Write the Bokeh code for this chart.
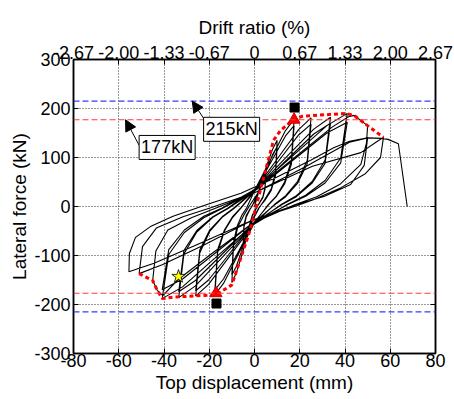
from bokeh.plotting import figure
from bokeh.models import LinearAxis, FixedTicker, Span, Label, Arrow, NormalHead
from bokeh.embed import file_html
from bokeh.resources import INLINE

FONT = "Liberation Sans"

# ---------------- data ----------------
x_ticks = [-80, -60, -40, -20, 0, 20, 40, 60, 80]
x_tick_labels = ["-80", "-60", "-40", "-20", "0", "20", "40", "60", "80"]
y_ticks = [-300, -200, -100, 0, 100, 200, 300]
y_tick_labels = ["-300", "-200", "-100", "0", "100", "200", "300"]
drift_labels = ["-2.67", "-2.00", "-1.33", "-0.67", "0", "0.67", "1.33", "2.00", "2.67"]

# hysteresis history: top displacement (mm) and lateral force (kN)
top_disp = [
    0, 2.5, 4, 5,
    4.65, 3.7, 2.25, 1, -1, -2.6, -4, -5,
    -4.65, -3.7, -2.25, -1, 1, 2.6, 4, 5,
    4.65, 3.7, 2.25, 1, -1, -2.6, -4, -5,
    -4.65, -3.7, -2.25, -1, 2, 5.2, 8, 10,
    9.3, 7.4, 4.5, 2, -2, -5.2, -8, -10,
    -9.3, -7.4, -4.5, -2, 2, 5.2, 8, 10,
    9.3, 7.4, 4.5, 2, -2, -5.2, -8, -10,
    -9.3, -7.6, -5.5, -3.5, 0.4, 7.9, 13.7, 17.5,
    16.3, 13.3, 9.6, 6.1, -0.4, -7.9, -13.7, -17.5,
    -16.3, -13.3, -9.6, -6.1, 0.4, 7.9, 13.7, 17.5,
    16.3, 13.3, 9.6, 6.1, -0.4, -7.9, -13.7, -17.5,
    -16.3, -13.3, -9.6, -6.1, 0.5, 11.3, 19.5, 25,
    23.3, 19, 13.8, 8.8, -0.5, -11.7, -20.3, -26,
    -24.2, -19.8, -14.3, -9.1, 0.5, 11.3, 19.5, 25,
    23.3, 19, 13.8, 8.8, -0.5, -11.7, -20.3, -26,
    -24.2, -19.8, -14.3, -9.1, 0.7, 15.1, 26.2, 33.6,
    31.2, 25.5, 18.5, 11.8, -0.7, -15.1, -26.1, -33.5,
    -31.2, -25.5, -18.4, -11.7, 0.7, 15.1, 26.2, 33.6,
    31.2, 25.5, 18.5, 11.8, -0.7, -15.1, -26.1, -33.5,
    -31.2, -25.5, -18.4, -11.7, 0.8, 18.5, 32, 41,
    38.1, 31.2, 22.6, 14.4, -0.8, -18.4, -31.8, -40.8,
    -37.9, -31, -22.4, -14.3, 0.8, 18.5, 32, 41,
    38.1, 31.2, 22.6, 14.4, -0.8, -18.4, -31.8, -40.8,
    -37.9, -31, -22.4, -14.3, 0.9, 19.8, 34.3, 41.5, 44, 50,
    49.5, 47, 38, 27.5, 17.5, -0.9, -20, -34, -40.5, -43, -45,
    -43.6, -38.3, -27.9, -17, 1, 22.5, 42, 50,
    48.5, 42.5, 31, 18, -1, -23, -40.8, -51,
    -49.5, -43.4, -31.6, -19, 1, 25.6, 47, 54, 57,
    55.7, 49, 38, 26, 19, -1, -25, -44.4, -55.5,
    -55.3, -52.6, -46, -36, -21, -6, 10, 25, 35, 42, 50, 56, 59, 63.6, 67.5,
]
lateral_force = [
    0, 40, 62, 75,
    39, 20, 8, -2, -20, -48, -70, -80,
    -42, -22, -8, 2, 17, 41, 59, 68,
    35, 18, 7, -1, -18, -43, -63, -72,
    -37, -19, -7, 1, 34, 81, 117, 135,
    70, 36, 14, -3, -39, -93, -135, -155,
    -81, -42, -16, 3, 31, 73, 106, 122,
    63, 33, 12, -2, -35, -84, -122, -140,
    -73, -39, -17, -3, 36, 103, 155, 178,
    93, 50, 21, 4, -36, -104, -157, -180,
    -94, -50, -22, -4, 33, 96, 144, 165,
    86, 46, 20, 3, -34, -99, -148, -170,
    -88, -48, -20, -3, 36, 105, 157, 181,
    94, 51, 22, 4, -37, -106, -159, -183,
    -95, -51, -22, -4, 34, 97, 146, 168,
    87, 47, 20, 3, -34, -100, -150, -172,
    -89, -48, -21, -3, 36, 106, 158, 182,
    95, 51, 22, 4, -37, -108, -162, -186,
    -97, -52, -22, -4, 34, 99, 148, 170,
    88, 48, 20, 3, -35, -101, -151, -174,
    -90, -49, -21, -3, 38, 110, 165, 190,
    99, 53, 23, 4, -38, -109, -164, -188,
    -98, -53, -23, -4, 34, 100, 150, 172,
    89, 48, 21, 3, -34, -99, -148, -170,
    -88, -48, -20, -3, 37, 108, 162, 183, 186, 165,
    130, 86, 46, 20, 3, -34, -100, -150, -182, -171, -151,
    -91, -48, -23, -3, 30, 81, 131, 140,
    84, 45, 21, 3, -28, -80, -119, -137,
    -82, -44, -21, -2, 30, 82, 110, 132, 141,
    100, 67, 38, 14, 2, -28, -77, -116, -133,
    -96, -63, -41, -20, 4, 27, 60, 95, 120, 133, 140, 139, 137, 128, 0,
]

# envelope (red dotted)
env_disp = [-51, -45, -43, -40.7, -36, -17, -10, -2, 4, 8.4, 11.5, 17, 21, 40, 44, 50, 57]
env_force = [-137, -151, -171, -188, -185, -180, -160, -49, 59, 135, 155, 177, 184, 190, 186, 165, 141]

yield_disp = [17.5, -17]
yield_force = [177, -177]
calc_disp = [17.7, -16.8]
calc_force = [202, -198]
star_disp = [-33.6]
star_force = [-143]

strength_upper = 215   # kN, blue dashed
strength_yield = 177   # kN, red dashed

# ---------------- figure ----------------
p = figure(width=454, height=399, x_range=(-80, 80), y_range=(-300, 300),
           output_backend="svg", toolbar_location=None,
           min_border_left=73, min_border_right=19, min_border_top=59, min_border_bottom=46)
p.background_fill_color = "white"
p.border_fill_color = "white"
p.outline_line_color = "black"
p.outline_line_width = 1.5

p.xgrid.ticker = FixedTicker(ticks=x_ticks)
p.ygrid.ticker = FixedTicker(ticks=y_ticks)
p.grid.grid_line_color = "#333333"
p.grid.grid_line_dash = "1 2"
p.grid.grid_line_width = 1


def style_axis(ax, labels=True):
    ax.major_tick_in = 5
    ax.major_tick_out = 0
    ax.minor_tick_line_color = None
    ax.axis_line_color = "black"
    ax.axis_line_width = 1.5
    ax.major_tick_line_color = "black"
    ax.major_label_text_font = FONT
    ax.major_label_text_font_size = "18px" if labels else "0px"
    ax.major_label_text_color = "black"
    ax.axis_label_text_font = FONT
    ax.axis_label_text_font_size = "19px"
    ax.axis_label_text_font_style = "normal"
    ax.axis_label_text_color = "black"


xa = p.xaxis[0]
xa.ticker = FixedTicker(ticks=x_ticks)
xa.major_label_overrides = {t: s for t, s in zip(x_ticks, x_tick_labels)}
xa.axis_label = "Top displacement (mm)"
style_axis(xa)
xa.major_label_standoff = 0
xa.axis_label_standoff = 2

ya = p.yaxis[0]
ya.ticker = FixedTicker(ticks=y_ticks)
ya.major_label_overrides = {t: s for t, s in zip(y_ticks, y_tick_labels)}
ya.axis_label = "Lateral force (kN)"
style_axis(ya)
ya.major_label_standoff = 3
ya.axis_label_standoff = 1

top = LinearAxis(ticker=FixedTicker(ticks=x_ticks), axis_label="Drift ratio (%)",
                 major_label_overrides={t: s for t, s in zip(x_ticks, drift_labels)})
style_axis(top)
top.major_label_standoff = 1
top.axis_label_standoff = 5
p.add_layout(top, "above")

right = LinearAxis(ticker=FixedTicker(ticks=y_ticks),
                   major_label_overrides={t: "" for t in y_ticks})
style_axis(right, labels=False)
right.major_label_standoff = 0
p.add_layout(right, "right")

# reference strength lines
for loc, col in [(strength_upper, "#3a3aff"), (-strength_upper, "#3a3aff"),
                 (strength_yield, "#ff3a3a"), (-strength_yield, "#ff3a3a")]:
    p.add_layout(Span(location=loc, dimension="width", line_color=col,
                      line_dash="6 3", line_width=1.2))

# hysteresis loops
p.line(top_disp, lateral_force, line_color="black", line_width=1.1)

# envelope
p.line(env_disp, env_force, line_color="red", line_width=3, line_dash="4 3")

# markers
p.scatter(calc_disp, calc_force, marker="square", size=9, fill_color="black", line_color="black")
p.scatter(yield_disp, yield_force, marker="triangle", size=12, fill_color="red", line_color="#cc0000")
p.scatter(star_disp, star_force, marker="star", size=14, fill_color="yellow", line_color="black", line_width=0.8)

# annotations
p.add_layout(Arrow(end=NormalHead(size=11, fill_color="black", line_color="black"),
                   x_start=-22.5, y_start=180, x_end=-27.5, y_end=215, line_width=1))
p.add_layout(Arrow(end=NormalHead(size=11, fill_color="black", line_color="black"),
                   x_start=-51, y_start=125, x_end=-57, y_end=177, line_width=1))
p.add_layout(Label(x=-22.5, y=182, text="215kN", text_font=FONT, text_font_size="18px",
                   text_color="black", anchor="top_left", padding=2,
                   background_fill_color="white", border_line_color="black", border_line_width=1))
p.add_layout(Label(x=-51, y=145, text="177kN", text_font=FONT, text_font_size="18px",
                   text_color="black", anchor="top_left", padding=2,
                   background_fill_color="white", border_line_color="black", border_line_width=1))

open("out.html", "w").write(file_html(p, INLINE))
